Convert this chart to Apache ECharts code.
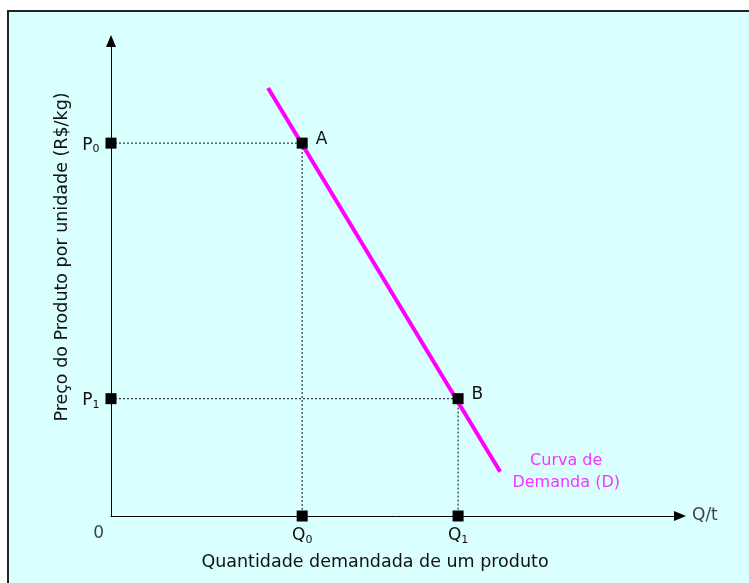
<!DOCTYPE html>
<html><head><meta charset="utf-8">
<script src="https://cdn.jsdelivr.net/npm/echarts@6/dist/echarts.min.js"></script>
<style>html,body{margin:0;padding:0;background:#fff}#c{width:749px;height:583px}</style>
</head><body><div id="c"></div>
<script>
// Data
const demandX = [2.76, 6.84];
const demandY = [9.01, 0.93];
const pointNames = ['A', 'B'];
const pointQ = [3.36, 6.1];
const pointP = [7.85, 2.47];
const priceTicks = ['P0', 'P1'];
const quantityTicks = ['Q0', 'Q1'];
const originLabel = '0';
const xEndLabel = 'Q/t';
const xTitle = 'Quantidade demandada de um produto';
const yTitle = 'Preço do Produto por unidade (R$/kg)';
const curveLabel = 'Curva de\nDemanda (D)';

const FONT = 'DejaVu Sans';
const sub = (s) => '{m|' + s[0] + '}{s|' + s.slice(1) + '}';
const richLbl = { m: { fontSize: 17, fontFamily: FONT, color: '#111' }, s: { fontSize: 11, fontFamily: FONT, color: '#111', padding: [9, 0, 0, 0] } };

const chart = echarts.init(document.getElementById('c'));
const dashStyle = { color: '#111', width: 1, type: [2, 2] };

const series = [];
pointQ.forEach((q, i) => {
  series.push({ type: 'line', data: [[0, pointP[i]], [q, pointP[i]], [q, 0]], symbol: 'none', lineStyle: dashStyle, silent: true, z: 2 });
});
series.push({ type: 'line', data: demandX.map((x, i) => [x, demandY[i]]), symbol: 'none', lineStyle: { color: '#FF00FF', width: 4 }, z: 3 });
const sq = { color: '#000', opacity: 1 };
series.push({ type: 'scatter', symbol: 'rect', symbolSize: 11, itemStyle: sq, z: 5,
  data: pointQ.map((q, i) => ({ value: [q, pointP[i]], name: pointNames[i] })),
  label: { show: true, position: 'right', distance: 8, formatter: '{b}', fontSize: 17, fontFamily: FONT, color: '#111', offset: [0, -4] } });
series.push({ type: 'scatter', symbol: 'rect', symbolSize: 11, itemStyle: sq, z: 5,
  data: pointP.map((p, i) => ({ value: [0, p], name: priceTicks[i] })),
  label: { show: true, position: 'left', distance: 6, formatter: (d) => sub(d.name), rich: richLbl, offset: [0, 2] } });
series.push({ type: 'scatter', symbol: 'rect', symbolSize: 11, itemStyle: sq, z: 5,
  data: pointQ.map((q, i) => ({ value: [q, 0], name: quantityTicks[i] })),
  label: { show: true, position: 'bottom', distance: 4, formatter: (d) => sub(d.name), rich: richLbl } });
series.push({ type: 'scatter', symbolSize: 0, z: 5,
  data: [{ value: [0, 0], name: originLabel }],
  label: { show: true, position: 'left', formatter: '{b}', fontSize: 17, fontFamily: FONT, color: '#111', offset: [-2, 18] } });
series.push({ type: 'scatter', symbolSize: 0, z: 5,
  data: [{ value: [10, 0], name: xEndLabel }],
  label: { show: true, position: 'right', distance: 12, formatter: '{b}', fontSize: 17, fontFamily: FONT, color: '#111' } });
series.push({ type: 'scatter', symbolSize: 0, z: 5,
  data: [{ value: [8, 0.93], name: curveLabel }],
  label: { show: true, position: 'inside', formatter: '{b}', fontSize: 16, fontFamily: FONT, color: '#FF00FF', lineHeight: 22, align: 'center' } });

chart.setOption({
  animation: false,
  backgroundColor: '#fff',
  graphic: [
    { type: 'rect', shape: { x: 8, y: 11, width: 760, height: 600 }, style: { fill: '#D9FFFF', stroke: '#222', lineWidth: 2 }, z: -10 },
    { type: 'text', x: 62, y: 257, rotation: Math.PI / 2, style: { text: yTitle, fontSize: 17.5, fontFamily: FONT, fill: '#111', align: 'center', verticalAlign: 'middle' } },
    { type: 'text', x: 375, y: 562, style: { text: xTitle, fontSize: 17.5, fontFamily: FONT, fill: '#111', align: 'center', verticalAlign: 'middle' } }
  ],
  grid: { left: 111, right: 69, top: 41, bottom: 67 },
  xAxis: { type: 'value', min: 0, max: 10, splitLine: { show: false }, axisTick: { show: false }, axisLabel: { show: false },
    axisLine: { show: true, lineStyle: { color: '#000', width: 1 }, symbol: ['none', 'triangle'], symbolSize: [10, 12] } },
  yAxis: { type: 'value', min: 0, max: 10, splitLine: { show: false }, axisTick: { show: false }, axisLabel: { show: false },
    axisLine: { show: true, lineStyle: { color: '#000', width: 1 }, symbol: ['none', 'triangle'], symbolSize: [10, 12] } },
  series: series
});
</script></body></html>
